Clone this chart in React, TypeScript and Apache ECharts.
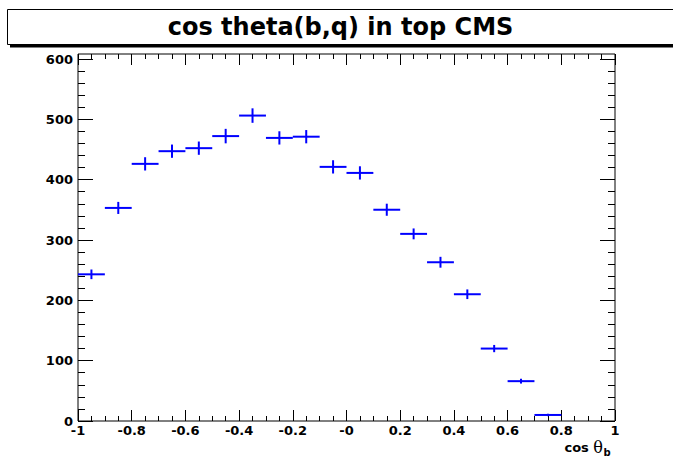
import React, { useEffect, useRef } from "react";
import * as echarts from "echarts";

const binCenters = [-0.95, -0.85, -0.75, -0.65, -0.55, -0.45, -0.35, -0.25, -0.15, -0.05, 0.05, 0.15, 0.25, 0.35, 0.45, 0.55, 0.65, 0.75];
const counts = [243, 353, 426, 447, 452, 472, 506, 469, 471, 421, 411, 350, 310, 263, 210, 120, 66, 10];
const errors = [8, 10, 11, 11, 11, 12, 12, 11, 11, 11, 11, 10, 9, 9, 8, 6, 4, 2];
const binHalfWidth = 0.05;
const xTickLabels = ["-1", "-0.8", "-0.6", "-0.4", "-0.2", "-0", "0.2", "0.4", "0.6", "0.8", "1"];
const titleText = "cos theta(b,q) in top CMS";

const FONT = "'DejaVu Sans', 'Liberation Sans', Arial, sans-serif";

export default function App() {
  const ref = useRef<HTMLDivElement>(null);
  useEffect(() => {
    if (!ref.current) return;
    const chart = echarts.init(ref.current, null, { renderer: "svg" });
    const data = binCenters.map((x, i) => [x, counts[i], errors[i]]);
    const xFmt = (v: number) => {
      const idx = Math.round((v + 1) / 0.2);
      return xTickLabels[idx] ?? "";
    };
    const tickCommon = {
      axisLine: { show: false, onZero: false },
      axisTick: { show: true, inside: true, lineStyle: { color: "#000", width: 1 } },
      minorTick: { show: true, lineStyle: { color: "#000", width: 1 } },
      splitLine: { show: false },
    };
    const labelStyle = { fontSize: 13, fontWeight: "bold", color: "#000", fontFamily: FONT };
    chart.setOption({
      animation: false,
      backgroundColor: "#fff",
      textStyle: { fontFamily: FONT },
      grid: [
        { left: 78, right: 58, top: 54, bottom: 39, show: true, borderColor: "#000", borderWidth: 1, backgroundColor: "transparent" },
        { left: 78, right: 58, top: 59, bottom: 39 },
      ],
      xAxis: [
        {
          type: "value", gridIndex: 0, position: "bottom", min: -1, max: 1, interval: 0.2,
          ...tickCommon,
          axisTick: { ...tickCommon.axisTick, length: 11 },
          minorTick: { ...tickCommon.minorTick, splitNumber: 4, length: 5 },
          axisLabel: { show: true, formatter: xFmt, ...labelStyle, margin: 3, showMinLabel: true, showMaxLabel: true },
        },
        {
          type: "value", gridIndex: 0, position: "top", min: -1, max: 1, interval: 0.2,
          ...tickCommon,
          axisTick: { ...tickCommon.axisTick, length: 11 },
          minorTick: { ...tickCommon.minorTick, splitNumber: 4, length: 5 },
          axisLabel: { show: false },
        },
        { type: "value", gridIndex: 1, min: -1, max: 1, show: false },
      ],
      yAxis: [
        { type: "value", gridIndex: 0, min: 0, max: 608, show: false },
        {
          type: "value", gridIndex: 1, position: "left", min: 0, max: 600, interval: 100,
          ...tickCommon,
          axisTick: { ...tickCommon.axisTick, length: 15 },
          minorTick: { ...tickCommon.minorTick, splitNumber: 5, length: 7 },
          axisLabel: { show: true, ...labelStyle, margin: 5 },
        },
        {
          type: "value", gridIndex: 1, position: "right", min: 0, max: 600, interval: 100,
          ...tickCommon,
          axisTick: { ...tickCommon.axisTick, length: 15 },
          minorTick: { ...tickCommon.minorTick, splitNumber: 5, length: 7 },
          axisLabel: { show: false },
        },
      ],
      series: [
        {
          type: "custom",
          xAxisIndex: 0,
          yAxisIndex: 0,
          data,
          renderItem: (params: any, api: any) => {
            const x = api.value(0);
            const y = api.value(1);
            const e = api.value(2);
            const l = api.coord([x - binHalfWidth, y]);
            const r = api.coord([x + binHalfWidth, y]);
            const t = api.coord([x, y + e]);
            const b = api.coord([x, y - e]);
            return {
              type: "group",
              children: [
                { type: "line", shape: { x1: l[0], y1: l[1], x2: r[0], y2: r[1] }, style: { stroke: "#0000ff", lineWidth: 2 } },
                { type: "line", shape: { x1: t[0], y1: t[1], x2: b[0], y2: b[1] }, style: { stroke: "#0000ff", lineWidth: 2 } },
              ],
            };
          },
        },
      ],
      graphic: [
        { type: "rect", shape: { x: 10, y: 11, width: 700, height: 36.5 }, style: { fill: "#000" }, z: 10 },
        { type: "rect", shape: { x: 7.5, y: 9.5, width: 700, height: 35 }, style: { fill: "#fff", stroke: "#000", lineWidth: 1 }, z: 11 },
        {
          type: "text", x: 340.5, y: 27, z: 12,
          style: { text: titleText, fill: "#000", font: `bold 24px ${FONT}`, textAlign: "center", textVerticalAlign: "middle" },
        },
        {
          type: "text", x: 603, y: 447, z: 12,
          style: {
            text: "{a|cos }{t|θ}",
            textAlign: "right", textVerticalAlign: "middle",
            rich: {
              a: { fontSize: 13, fontWeight: "bold", fontFamily: FONT, fill: "#000" },
              t: { fontSize: 16, fontWeight: "normal", fontFamily: "'DejaVu Serif', serif", fill: "#000" },
            },
          },
        },
        {
          type: "text", x: 603.5, y: 452, z: 12,
          style: { text: "b", fill: "#000", font: `bold 10px ${FONT}`, textAlign: "left", textVerticalAlign: "middle" },
        },
      ],
    });
    return () => chart.dispose();
  }, []);
  return <div ref={ref} style={{ position: "fixed", left: 0, top: 0, width: 673, height: 460 }} />;
}
